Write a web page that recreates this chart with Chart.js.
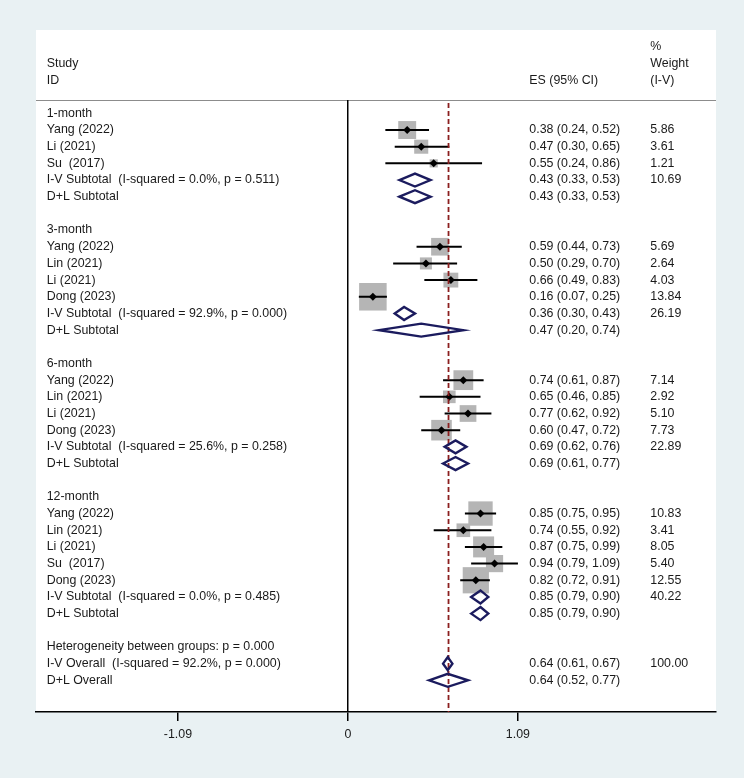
<!DOCTYPE html>
<html>
<head>
<meta charset="utf-8">
<script src="https://cdn.jsdelivr.net/npm/chart.js@4.4.1/dist/chart.umd.min.js"></script>
<style>
  html, body { margin: 0; padding: 0; background: #e9f1f3; }
  #wrap { width: 744px; height: 778px; }
</style>
</head>
<body>
<div id="wrap"><canvas id="forest" width="744" height="778"></canvas></div>
<script>
// one label per row, top to bottom (row index = position in list)
const rowLabels = [
  '1-month', 'Yang (2022)', 'Li (2021)', 'Su  (2017)',
  'I-V Subtotal  (I-squared = 0.0%, p = 0.511)', 'D+L Subtotal', '',
  '3-month', 'Yang (2022)', 'Lin (2021)', 'Li (2021)', 'Dong (2023)',
  'I-V Subtotal  (I-squared = 92.9%, p = 0.000)', 'D+L Subtotal', '',
  '6-month', 'Yang (2022)', 'Lin (2021)', 'Li (2021)', 'Dong (2023)',
  'I-V Subtotal  (I-squared = 25.6%, p = 0.258)', 'D+L Subtotal', '',
  '12-month', 'Yang (2022)', 'Lin (2021)', 'Li (2021)', 'Su  (2017)', 'Dong (2023)',
  'I-V Subtotal  (I-squared = 0.0%, p = 0.485)', 'D+L Subtotal', '',
  'Heterogeneity between groups: p = 0.000',
  'I-V Overall  (I-squared = 92.2%, p = 0.000)', 'D+L Overall',
];

// individual studies
const studyRows   = [1, 2, 3, 8, 9, 10, 11, 16, 17, 18, 19, 24, 25, 26, 27, 28];
const studyES     = [0.38, 0.47, 0.55, 0.59, 0.50, 0.66, 0.16, 0.74, 0.65, 0.77, 0.60, 0.85, 0.74, 0.87, 0.94, 0.82];
const studyLo     = [0.24, 0.30, 0.24, 0.44, 0.29, 0.49, 0.07, 0.61, 0.46, 0.62, 0.47, 0.75, 0.55, 0.75, 0.79, 0.72];
const studyHi     = [0.52, 0.65, 0.86, 0.73, 0.70, 0.83, 0.25, 0.87, 0.85, 0.92, 0.72, 0.95, 0.92, 0.99, 1.09, 0.91];
const studyWeight = [5.86, 3.61, 1.21, 5.69, 2.64, 4.03, 13.84, 7.14, 2.92, 5.10, 7.73, 10.83, 3.41, 8.05, 5.40, 12.55];

// pooled estimates (subtotals + overall)
const poolRows   = [4, 5, 12, 13, 20, 21, 29, 30, 33, 34];
const poolES     = [0.43, 0.43, 0.36, 0.47, 0.69, 0.69, 0.85, 0.85, 0.64, 0.64];
const poolLo     = [0.33, 0.33, 0.30, 0.20, 0.62, 0.61, 0.79, 0.79, 0.61, 0.52];
const poolHi     = [0.53, 0.53, 0.43, 0.74, 0.76, 0.77, 0.90, 0.90, 0.67, 0.77];
const poolWeight = [10.69, null, 26.19, null, 22.89, null, 40.22, null, 100.00, null];

const overallES = 0.645;
const xTicks = [-1.09, 0, 1.09];

const FONT = '"Liberation Sans", Arial, Helvetica, sans-serif';
const TXT = '#1a1a1a';
const fmt = v => v.toFixed(2);

// CI segments, broken by null points
const ciData = [];
studyRows.forEach((r, i) => {
  ciData.push({ x: studyLo[i], y: r }, { x: studyHi[i], y: r }, { x: studyHi[i], y: null });
});

const forestPlugin = {
  id: 'forest',
  beforeDraw(chart) {
    const { ctx, chartArea: a } = chart;
    ctx.save();
    ctx.fillStyle = '#e9f1f3';
    ctx.fillRect(0, 0, chart.width, chart.height);
    ctx.fillStyle = '#ffffff';
    ctx.fillRect(a.left, 30, a.right - a.left, a.bottom - 30);
    // header rule
    ctx.strokeStyle = '#8c8c8c';
    ctx.lineWidth = 1;
    ctx.beginPath();
    ctx.moveTo(a.left, a.top + 0.5);
    ctx.lineTo(a.right, a.top + 0.5);
    ctx.stroke();
    ctx.restore();
  },
  afterDatasetsDraw(chart) {
    const { ctx, chartArea: a } = chart;
    const xs = chart.scales.x, ys = chart.scales.y;
    ctx.save();

    // reference line at overall estimate
    const xo = xs.getPixelForValue(overallES);
    ctx.strokeStyle = '#8b1f1f';
    ctx.lineWidth = 1.8;
    ctx.setLineDash([5, 3]);
    ctx.beginPath();
    ctx.moveTo(xo, a.top + 3);
    ctx.lineTo(xo, a.bottom);
    ctx.stroke();
    ctx.setLineDash([]);

    // pooled diamonds
    ctx.strokeStyle = '#1b1b5e';
    ctx.lineWidth = 2.4;
    ctx.lineJoin = 'miter';
    poolRows.forEach((r, i) => {
      const y = ys.getPixelForValue(r);
      const x0 = xs.getPixelForValue(poolLo[i]);
      const xm = xs.getPixelForValue(poolES[i]);
      const x1 = xs.getPixelForValue(poolHi[i]);
      ctx.beginPath();
      ctx.moveTo(x0, y);
      ctx.lineTo(xm, y - 6.5);
      ctx.lineTo(x1, y);
      ctx.lineTo(xm, y + 6.5);
      ctx.closePath();
      ctx.stroke();
    });

    // text columns
    ctx.fillStyle = TXT;
    ctx.font = '12.4px ' + FONT;
    ctx.textAlign = 'left';
    ctx.textBaseline = 'middle';
    const xLab = a.left + 10.7, xES = 529.3, xW = 650.3;
    rowLabels.forEach((t, r) => { if (t) ctx.fillText(t, xLab, ys.getPixelForValue(r)); });
    studyRows.forEach((r, i) => {
      const y = ys.getPixelForValue(r);
      ctx.fillText(`${fmt(studyES[i])} (${fmt(studyLo[i])}, ${fmt(studyHi[i])})`, xES, y);
      ctx.fillText(fmt(studyWeight[i]), xW, y);
    });
    poolRows.forEach((r, i) => {
      const y = ys.getPixelForValue(r);
      ctx.fillText(`${fmt(poolES[i])} (${fmt(poolLo[i])}, ${fmt(poolHi[i])})`, xES, y);
      if (poolWeight[i] !== null) ctx.fillText(fmt(poolWeight[i]), xW, y);
    });

    // header
    ctx.fillText('Study', xLab, a.top - 36.7);
    ctx.fillText('ID', xLab, a.top - 19.3);
    ctx.fillText('ES (95% CI)', xES, a.top - 19.3);
    ctx.fillText('%', xW, a.top - 53);
    ctx.fillText('Weight', xW, a.top - 36.7);
    ctx.fillText('(I-V)', xW, a.top - 19.3);
    ctx.restore();
  },
};

new Chart(document.getElementById('forest'), {
  type: 'scatter',
  data: {
    datasets: [
      {
        label: 'weight',
        data: studyRows.map((r, i) => ({ x: studyES[i], y: r })),
        pointStyle: 'rect',
        pointRadius: c => 7.4 * Math.sqrt(studyWeight[c.dataIndex]) / Math.SQRT2,
        backgroundColor: '#b5b5b5',
        borderWidth: 0,
        order: 3,
      },
      {
        label: 'CI',
        data: ciData,
        showLine: true,
        spanGaps: false,
        borderColor: '#000000',
        borderWidth: 2,
        pointRadius: 0,
        order: 2,
      },
      {
        label: 'ES',
        data: studyRows.map((r, i) => ({ x: studyES[i], y: r })),
        pointStyle: 'rectRot',
        pointRadius: 4,
        backgroundColor: '#000000',
        borderWidth: 0,
        order: 1,
      },
    ],
  },
  options: {
    responsive: false,
    devicePixelRatio: 1,
    animation: false,
    layout: { padding: { left: 36, right: 28, top: 100, bottom: 36 } },
    plugins: { legend: { display: false }, tooltip: { enabled: false } },
    scales: {
      x: {
        type: 'linear',
        min: -2.0,
        max: 2.36,
        afterBuildTicks: s => { s.ticks = xTicks.map(v => ({ value: v })); },
        afterFit: s => { s.height = 30; },
        grid: {
          drawOnChartArea: true,
          color: c => (c.tick && c.tick.value === 0 ? '#000000' : 'rgba(0,0,0,0)'),
          lineWidth: 1.5,
          drawTicks: true,
          tickLength: 9,
          tickColor: '#000000',
        },
        border: { display: true, color: '#000000', width: 1.5 },
        ticks: {
          color: TXT,
          font: { family: FONT, size: 12.4 },
          padding: 6,
          autoSkip: false,
          maxRotation: 0,
          callback: v => (v === 0 ? '0' : v.toFixed(2)),
        },
      },
      y: {
        type: 'linear',
        display: false,
        reverse: true,
        min: -0.8,
        max: 35.9,
      },
    },
  },
  plugins: [forestPlugin],
});
</script>
</body>
</html>
